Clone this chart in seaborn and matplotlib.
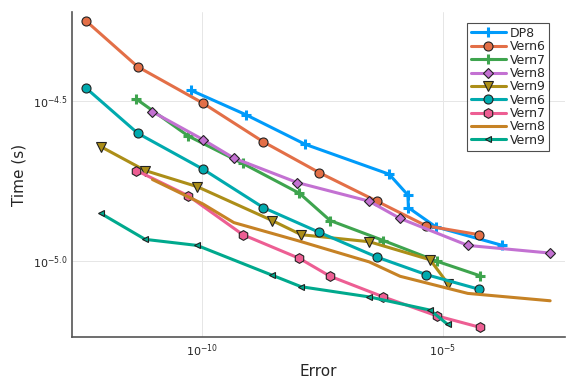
import numpy as np
import pandas as pd
import matplotlib
matplotlib.use("Agg")
import matplotlib.pyplot as plt
import seaborn as sns

# errors (x) and times (y)
dp8_err = [6.05e-11, 8.26e-10, 1.40e-8, 7.76e-7, 1.90e-6, 1.95e-6, 7.23e-6, 1.74e-4]
dp8_time = [3.42e-5, 2.87e-5, 2.32e-5, 1.87e-5, 1.61e-5, 1.47e-5, 1.28e-5, 1.12e-5]

vern6_err = [3.96e-13, 4.74e-12, 1.06e-10, 1.91e-9, 2.78e-8, 4.32e-7, 4.55e-6, 5.71e-5]
vern6_time_a = [5.64e-5, 4.05e-5, 3.12e-5, 2.36e-5, 1.89e-5, 1.54e-5, 1.29e-5, 1.21e-5]
vern6_time_b = [3.48e-5, 2.51e-5, 1.94e-5, 1.47e-5, 1.23e-5, 1.03e-5, 9.08e-6, 8.17e-6]

vern7_err = [4.44e-12, 5.32e-11, 7.16e-10, 1.07e-8, 4.63e-8, 5.92e-7, 7.52e-6, 6.00e-5]
vern7_time_a = [3.21e-5, 2.46e-5, 2.02e-5, 1.63e-5, 1.34e-5, 1.16e-5, 1.00e-5, 9.00e-6]
vern7_time_b = [1.92e-5, 1.60e-5, 1.21e-5, 1.02e-5, 8.97e-6, 7.73e-6, 6.75e-6, 6.21e-6]

vern8_err = [9.53e-12, 1.06e-10, 4.66e-10, 9.73e-9, 2.99e-7, 1.31e-6, 3.33e-5, 1.70e-3]
vern8_time_a = [2.93e-5, 2.40e-5, 2.10e-5, 1.76e-5, 1.54e-5, 1.36e-5, 1.12e-5, 1.06e-5]
vern8_time_b = [1.80e-5, 1.51e-5, 1.32e-5, 1.16e-5, 9.95e-6, 8.97e-6, 7.93e-6, 7.52e-6]

vern9_err = [8.11e-13, 6.73e-12, 8.07e-11, 2.90e-9, 1.16e-8, 3.03e-7, 5.51e-6, 1.28e-5]
vern9_time_a = [2.28e-5, 1.92e-5, 1.71e-5, 1.34e-5, 1.21e-5, 1.15e-5, 1.01e-5, 8.51e-6]
vern9_time_b = [1.41e-5, 1.17e-5, 1.12e-5, 9.04e-6, 8.32e-6, 7.73e-6, 7.03e-6, 6.34e-6]

series = [
    ("DP8", dp8_err, dp8_time, "#009BFA", "+", 7),
    ("Vern6", vern6_err, vern6_time_a, "#E36F47", "o", 6.5),
    ("Vern7", vern7_err, vern7_time_a, "#3EA44E", "+", 7),
    ("Vern8", vern8_err, vern8_time_a, "#C371D2", "D", 5),
    ("Vern9", vern9_err, vern9_time_a, "#AC8E18", "v", 7),
    ("Vern6", vern6_err, vern6_time_b, "#00AAAE", "o", 6.5),
    ("Vern7", vern7_err, vern7_time_b, "#ED5E93", "h", 7),
    ("Vern8", vern8_err, vern8_time_b, "#C68225", None, 0),
    ("Vern9", vern9_err, vern9_time_b, "#00A98D", "<", 4.5),
]

sns.set_style("white")
fig = plt.figure(figsize=(5.76, 3.84), dpi=100)
ax = fig.add_axes([0.125, 0.122, 0.856, 0.846])

for name, err, t, col, mk, ms in series:
    df = pd.DataFrame({"Error": err, "Time": t})
    kw = dict(color=col, linewidth=2.2, sort=False, estimator=None, label=name, ax=ax)
    if mk == "+":
        kw.update(marker="+", markersize=ms, markeredgewidth=2.2, markeredgecolor=col)
    elif mk is not None:
        kw.update(marker=mk, markersize=ms, markeredgecolor="#222222", markeredgewidth=0.8)
    sns.lineplot(data=df, x="Error", y="Time", **kw)

ax.set_xscale("log")
ax.set_yscale("log")
ax.set_xlim(10**-12.69, 10**-2.46)
ax.set_ylim(10**-5.2375, 10**-4.222)

ax.set_xticks([1e-10, 1e-5])
ax.set_xticklabels([r"$10^{-10}$", r"$10^{-5}$"])
ax.set_yticks([10**-4.5, 1e-5])
ax.set_yticklabels([r"$10^{-4.5}$", r"$10^{-5.0}$"])
ax.minorticks_off()
ax.tick_params(direction="in", length=4, width=0.8, labelsize=8, color="#444444")

ax.grid(True, color="#e6e6e6", linewidth=0.7)
for s in ["top", "right"]:
    ax.spines[s].set_visible(False)
for s in ["left", "bottom"]:
    ax.spines[s].set_color("#555555")
    ax.spines[s].set_linewidth(1.2)

ax.set_xlabel("Error", fontsize=11)
ax.set_ylabel("Time (s)", fontsize=11)

leg = ax.legend(loc="upper right", bbox_to_anchor=(0.968, 0.967), fontsize=9,
                frameon=True, fancybox=False, handlelength=2.8,
                borderpad=0.3, labelspacing=0.03, handletextpad=0.3,
                borderaxespad=0.0)
leg.get_frame().set_edgecolor("#222222")
leg.get_frame().set_linewidth(0.8)

fig.savefig("out.png", dpi=100)
